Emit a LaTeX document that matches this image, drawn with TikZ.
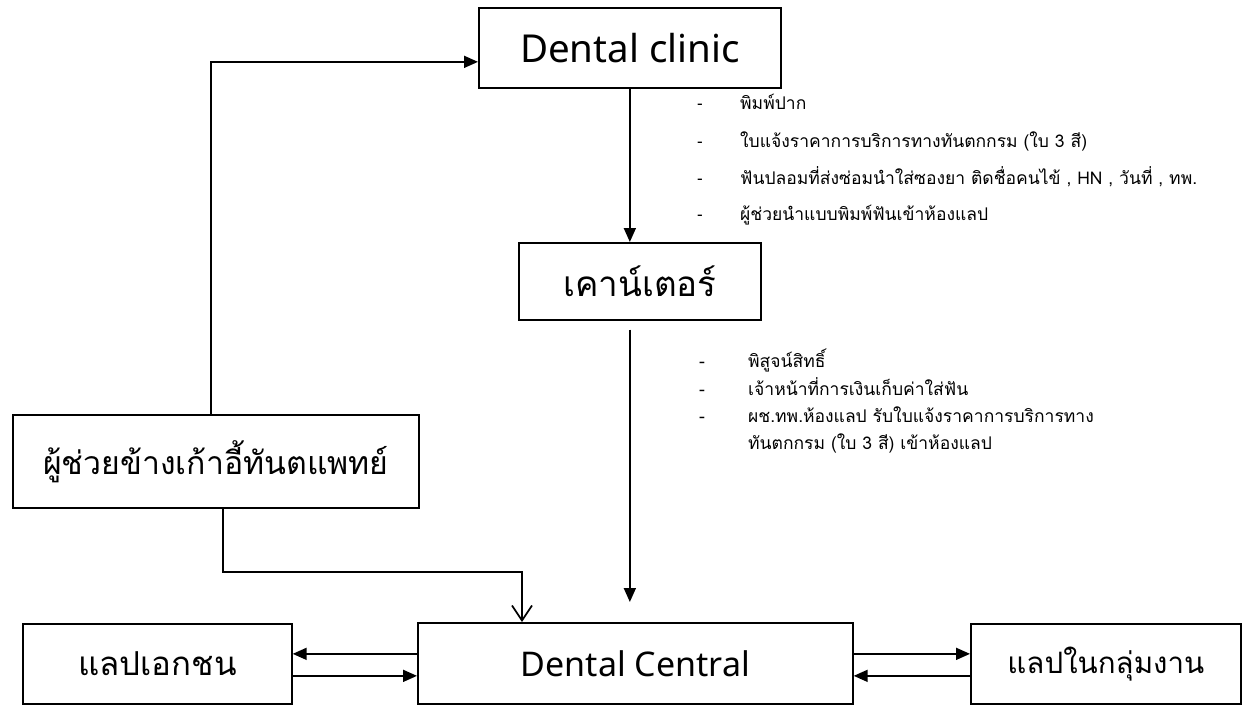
\documentclass[tikz,border=0pt]{standalone}
\usepackage{fontspec}
\setmainfont[Script=Thai]{Loma}
\newfontfamily\latinfont{Noto Sans}
\usetikzlibrary{arrows.meta}
\begin{document}
\begin{tikzpicture}[x=1pt,y=-1pt,
  box/.style={draw, line width=1.7pt, inner sep=0pt, anchor=north west},
  big/.style={font=\fontsize{#1}{40}\selectfont},
  arr/.style={line width=1.7pt, -{Triangle[length=14pt,width=12pt]}},
  barb/.style={line width=1.7pt, -{Straight Barb[length=15pt,width=20pt,line width=1.7pt]}},
  item/.style={anchor=base west, inner sep=0pt, font=\fontsize{17.5}{22}\selectfont}]
\useasboundingbox (0,0) rectangle (1251,705);
\node[box, big=38.5, minimum width=302pt, minimum height=80pt] (clinic) at (478,7) {\latinfont Dental clinic};
\node[box, big=35, minimum width=242pt, minimum height=77pt] (counter) at (518,242) {เคาน์เตอร์};
\node[box, big=32, minimum width=406pt, minimum height=93pt] (assist) at (12,414) {ผู้ช่วยข้างเก้าอี้ทันตแพทย์};
\node[box, big=34, minimum width=435pt, minimum height=81pt] (central) at (417,622) {\latinfont Dental Central};
\node[box, big=33, minimum width=269pt, minimum height=80pt] (private) at (22,623) {แลปเอกชน};
\node[box, big=29.5, minimum width=270pt, minimum height=80pt] (inhouse) at (970,623) {แลปในกลุ่มงาน};

% lists
\node[item] (d1) at (697,109) {\latinfont\bfseries -};
\node[item] (t1) at (740,109) {พิมพ์ปาก};
\node[item] (d2) at (697,147) {\latinfont\bfseries -};
\node[item] (t2) at (740,147) {ใบแจ้งราคาการบริการทางทันตกกรม (ใบ 3 สี)};
\node[item] (d3) at (697,184) {\latinfont\bfseries -};
\node[item] (t3) at (740,184) {ฟันปลอมที่ส่งซ่อมนำใส่ซองยา ติดชื่อคนไข้ , HN , วันที่ , ทพ.};
\node[item] (d4) at (697,220) {\latinfont\bfseries -};
\node[item] (t4) at (740,220) {ผู้ช่วยนำแบบพิมพ์ฟันเข้าห้องแลป};

\node[item] (e1) at (699,367) {-};
\node[item] (s1) at (748,367) {พิสูจน์สิทธิ์};
\node[item] (e2) at (699,395) {-};
\node[item] (s2) at (748,395) {เจ้าหน้าที่การเงินเก็บค่าใส่ฟัน};
\node[item] (e3) at (699,422) {-};
\node[item] (s3) at (748,422) {ผช.ทพ.ห้องแลป รับใบแจ้งราคาการบริการทาง};
\node[item] (s4) at (748,449) {ทันตกกรม (ใบ 3 สี) เข้าห้องแลป};

% connectors
\draw[arr] ([xshift=199pt]assist.north west) |- ([yshift=-14pt]clinic.west);
\draw[arr] (clinic.south) -- (clinic.south |- counter.north);
\coordinate (cend) at ([yshift=20pt]central.north -| clinic.south);
\draw[arr] ([yshift=-9pt]counter.south -| clinic.south) -- (cend);
\draw[barb] ([xshift=211pt]assist.south west) -- ++(0,63) -| ([xshift=105pt]central.north west);
\draw[arr] ([yshift=9.5pt]central.west) -- ([yshift=9.5pt]central.west -| private.east);
\draw[arr] ([yshift=-12.5pt]central.west -| private.east) -- ([yshift=-12.5pt]central.west);
\draw[arr] ([yshift=9.5pt]central.east) -- ([yshift=9.5pt]central.east -| inhouse.west);
\draw[arr] ([yshift=-12.5pt]central.east -| inhouse.west) -- ([yshift=-12.5pt]central.east);
\end{tikzpicture}
\end{document}
